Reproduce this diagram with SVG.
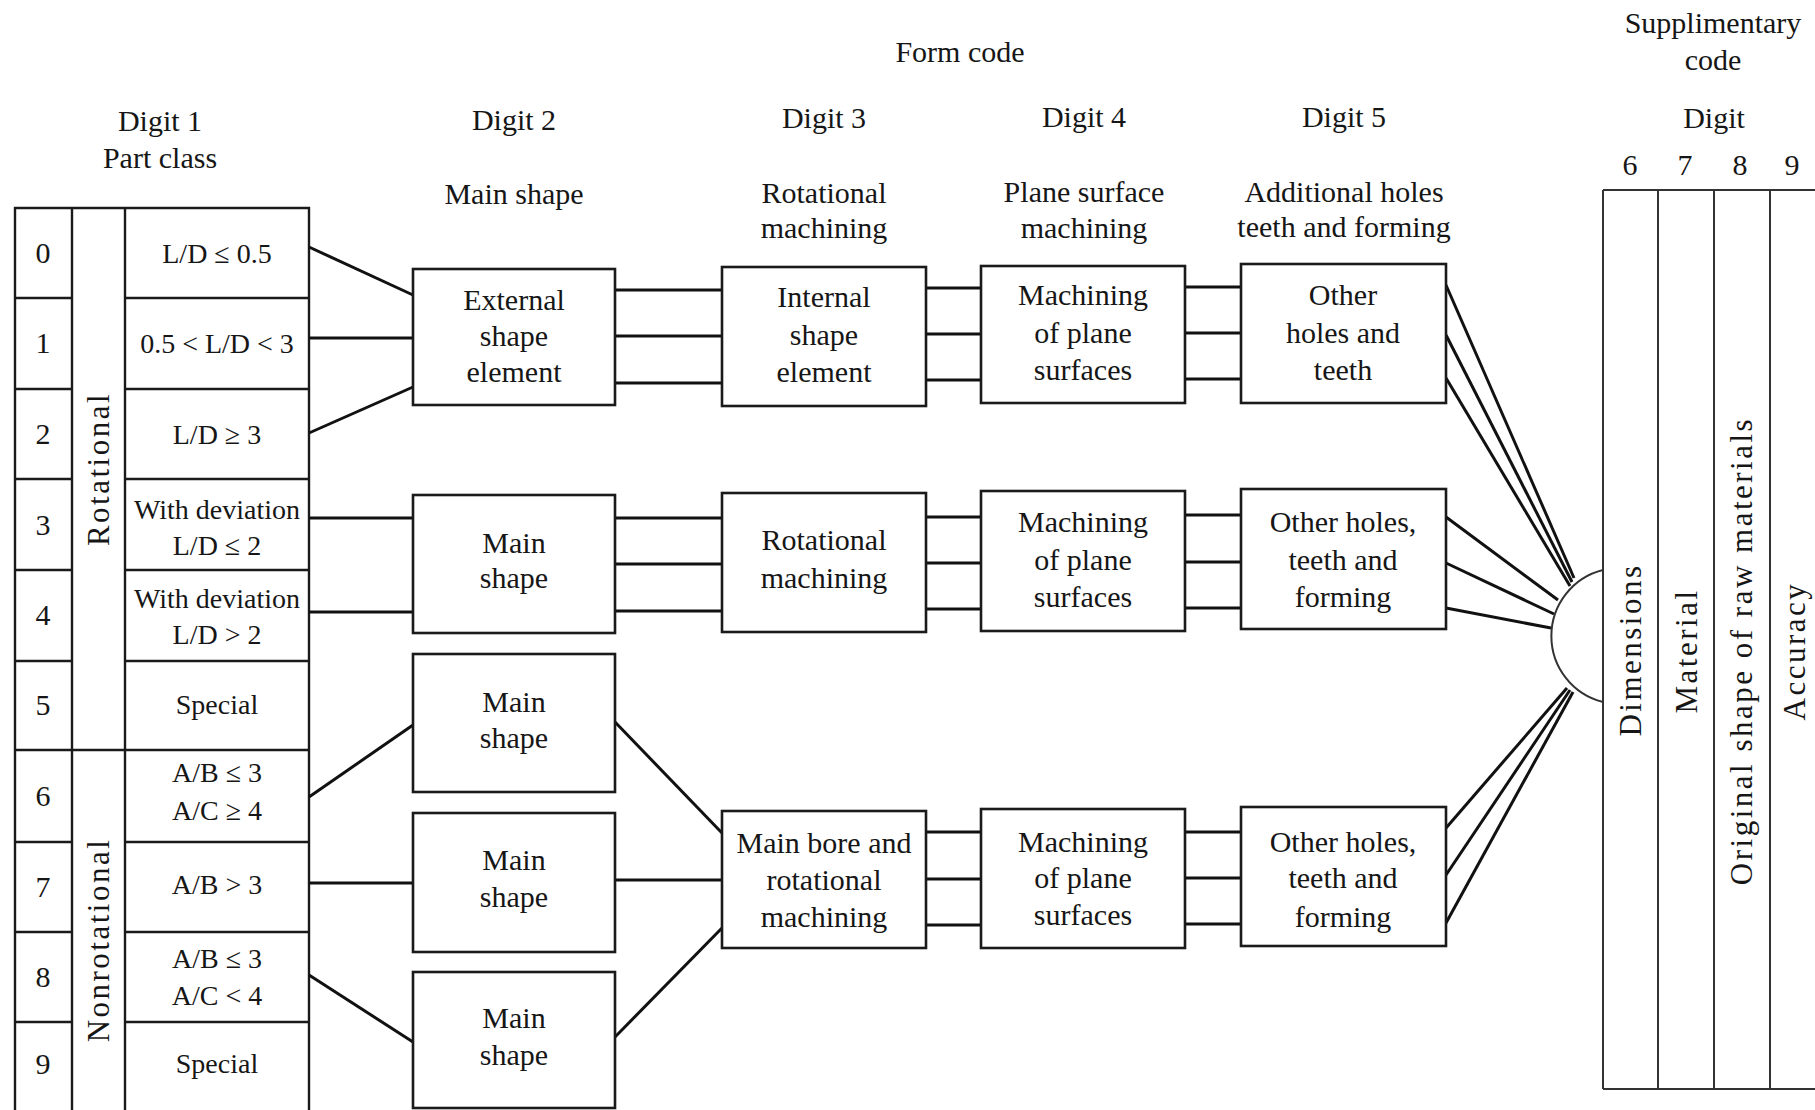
<svg xmlns="http://www.w3.org/2000/svg" width="1815" height="1110" viewBox="0 0 1815 1110">
<style>
text{font-family:"Liberation Serif","Times New Roman",serif;fill:#161616;text-anchor:middle}
.h{font-size:30px}
.t{font-size:30px}
.c{font-size:28px}
.v{font-size:31px;letter-spacing:2.5px;dominant-baseline:central}
.box{fill:#fff;stroke:#1a1a1a;stroke-width:2.6}
.tl{stroke:#1a1a1a;stroke-width:2.4;fill:none}
.sl{stroke:#333;stroke-width:2;fill:none}
.cn line{stroke:#111;stroke-width:3}
</style>
<rect width="1815" height="1110" fill="#fff"/>

<!-- headers -->
<g id="headers">
<text class="h" x="960" y="62">Form code</text>
<text class="h" x="1713" y="33">Supplimentary</text>
<text class="h" x="1713" y="70">code</text>
<text class="h" x="1714" y="128">Digit</text>
<text class="h" x="1630" y="175">6</text>
<text class="h" x="1685" y="175">7</text>
<text class="h" x="1740" y="175">8</text>
<text class="h" x="1792" y="175">9</text>
<text class="h" x="160" y="131">Digit 1</text>
<text class="h" x="160" y="168">Part class</text>
<text class="h" x="514" y="130">Digit 2</text>
<text class="h" x="514" y="204">Main shape</text>
<text class="h" x="824" y="128">Digit 3</text>
<text class="h" x="824" y="203">Rotational</text>
<text class="h" x="824" y="238">machining</text>
<text class="h" x="1084" y="127">Digit 4</text>
<text class="h" x="1084" y="202">Plane surface</text>
<text class="h" x="1084" y="238">machining</text>
<text class="h" x="1344" y="127">Digit 5</text>
<text class="h" x="1344" y="202">Additional holes</text>
<text class="h" x="1344" y="237">teeth and forming</text>
</g>

<!-- part class table -->
<g id="part-class-table">
<path class="tl" d="M15,1110 V208 H309 V1110 M72,208 V1110 M125,208 V1110 M15,750 H309"/>
<path class="tl" d="M15,298 H72 M15,389 H72 M15,479 H72 M15,570 H72 M15,661 H72 M15,842 H72 M15,932 H72 M15,1022 H72"/>
<path class="tl" d="M125,298 H309 M125,389 H309 M125,479 H309 M125,570 H309 M125,661 H309 M125,842 H309 M125,932 H309 M125,1022 H309"/>
<text class="v" transform="translate(98,469) rotate(-90)">Rotational</text>
<text class="v" transform="translate(98,940) rotate(-90)">Nonrotational</text>
</g>
<g id="row0"><text class="t" x="43" y="263">0</text><text class="c" x="217" y="263">L/D ≤ 0.5</text></g>
<g id="row1"><text class="t" x="43" y="353">1</text><text class="c" x="217" y="353">0.5 &lt; L/D &lt; 3</text></g>
<g id="row2"><text class="t" x="43" y="444">2</text><text class="c" x="217" y="444">L/D ≥ 3</text></g>
<g id="row3"><text class="t" x="43" y="535">3</text><text class="c" x="217" y="519">With deviation</text><text class="c" x="217" y="555">L/D ≤ 2</text></g>
<g id="row4"><text class="t" x="43" y="625">4</text><text class="c" x="217" y="608">With deviation</text><text class="c" x="217" y="644">L/D &gt; 2</text></g>
<g id="row5"><text class="t" x="43" y="715">5</text><text class="c" x="217" y="714">Special</text></g>
<g id="row6"><text class="t" x="43" y="806">6</text><text class="c" x="217" y="782">A/B ≤ 3</text><text class="c" x="217" y="820">A/C ≥ 4</text></g>
<g id="row7"><text class="t" x="43" y="897">7</text><text class="c" x="217" y="894">A/B &gt; 3</text></g>
<g id="row8"><text class="t" x="43" y="987">8</text><text class="c" x="217" y="968">A/B ≤ 3</text><text class="c" x="217" y="1005">A/C &lt; 4</text></g>
<g id="row9"><text class="t" x="43" y="1074">9</text><text class="c" x="217" y="1073">Special</text></g>

<!-- connectors -->
<g id="connectors" class="cn">
<line x1="309" y1="247" x2="413" y2="295"/>
<line x1="309" y1="338" x2="413" y2="338"/>
<line x1="309" y1="433" x2="413" y2="387"/>
<line x1="309" y1="518" x2="413" y2="518"/>
<line x1="309" y1="612" x2="413" y2="612"/>
<line x1="309" y1="797" x2="413" y2="725"/>
<line x1="309" y1="883" x2="413" y2="883"/>
<line x1="309" y1="975" x2="413" y2="1042"/>

<line x1="615" y1="290" x2="722" y2="290"/>
<line x1="615" y1="336" x2="722" y2="336"/>
<line x1="615" y1="383" x2="722" y2="383"/>
<line x1="615" y1="518" x2="722" y2="518"/>
<line x1="615" y1="564" x2="722" y2="564"/>
<line x1="615" y1="611" x2="722" y2="611"/>
<line x1="615" y1="722" x2="722" y2="833"/>
<line x1="615" y1="880" x2="722" y2="880"/>
<line x1="615" y1="1037" x2="722" y2="928"/>

<line x1="926" y1="288" x2="981" y2="288"/>
<line x1="926" y1="334" x2="981" y2="334"/>
<line x1="926" y1="380" x2="981" y2="380"/>
<line x1="926" y1="517" x2="981" y2="517"/>
<line x1="926" y1="563" x2="981" y2="563"/>
<line x1="926" y1="609" x2="981" y2="609"/>
<line x1="926" y1="832" x2="981" y2="832"/>
<line x1="926" y1="879" x2="981" y2="879"/>
<line x1="926" y1="925" x2="981" y2="925"/>

<line x1="1185" y1="287" x2="1241" y2="287"/>
<line x1="1185" y1="333" x2="1241" y2="333"/>
<line x1="1185" y1="379" x2="1241" y2="379"/>
<line x1="1185" y1="515" x2="1241" y2="515"/>
<line x1="1185" y1="562" x2="1241" y2="562"/>
<line x1="1185" y1="608" x2="1241" y2="608"/>
<line x1="1185" y1="832" x2="1241" y2="832"/>
<line x1="1185" y1="878" x2="1241" y2="878"/>
<line x1="1185" y1="924" x2="1241" y2="924"/>

<line x1="1446" y1="285" x2="1574" y2="578"/>
<line x1="1446" y1="335" x2="1572" y2="582"/>
<line x1="1446" y1="378" x2="1570" y2="586"/>
<line x1="1446" y1="517" x2="1558" y2="600"/>
<line x1="1446" y1="563" x2="1554" y2="614"/>
<line x1="1446" y1="608" x2="1551" y2="628"/>
<line x1="1446" y1="828" x2="1567" y2="688"/>
<line x1="1446" y1="875" x2="1570" y2="690"/>
<line x1="1446" y1="923" x2="1573" y2="692"/>
</g>

<!-- digit 2 nodes -->
<g id="d2-external"><rect class="box" x="413" y="269" width="202" height="136"/>
<text class="t" x="514" y="310">External</text><text class="t" x="514" y="346">shape</text><text class="t" x="514" y="382">element</text></g>
<g id="d2-main-1"><rect class="box" x="413" y="495" width="202" height="138"/>
<text class="t" x="514" y="553">Main</text><text class="t" x="514" y="588">shape</text></g>
<g id="d2-main-2"><rect class="box" x="413" y="654" width="202" height="138"/>
<text class="t" x="514" y="712">Main</text><text class="t" x="514" y="748">shape</text></g>
<g id="d2-main-3"><rect class="box" x="413" y="813" width="202" height="139"/>
<text class="t" x="514" y="870">Main</text><text class="t" x="514" y="907">shape</text></g>
<g id="d2-main-4"><rect class="box" x="413" y="972" width="202" height="136"/>
<text class="t" x="514" y="1028">Main</text><text class="t" x="514" y="1065">shape</text></g>

<!-- digit 3 nodes -->
<g id="d3-internal"><rect class="box" x="722" y="267" width="204" height="139"/>
<text class="t" x="824" y="307">Internal</text><text class="t" x="824" y="345">shape</text><text class="t" x="824" y="382">element</text></g>
<g id="d3-rotational"><rect class="box" x="722" y="493" width="204" height="139"/>
<text class="t" x="824" y="550">Rotational</text><text class="t" x="824" y="588">machining</text></g>
<g id="d3-mainbore"><rect class="box" x="722" y="811" width="204" height="137"/>
<text class="t" x="824" y="853">Main bore and</text><text class="t" x="824" y="890">rotational</text><text class="t" x="824" y="927">machining</text></g>

<!-- digit 4 nodes -->
<g id="d4-plane-1"><rect class="box" x="981" y="266" width="204" height="137"/>
<text class="t" x="1083" y="305">Machining</text><text class="t" x="1083" y="343">of plane</text><text class="t" x="1083" y="380">surfaces</text></g>
<g id="d4-plane-2"><rect class="box" x="981" y="491" width="204" height="140"/>
<text class="t" x="1083" y="532">Machining</text><text class="t" x="1083" y="570">of plane</text><text class="t" x="1083" y="607">surfaces</text></g>
<g id="d4-plane-3"><rect class="box" x="981" y="809" width="204" height="139"/>
<text class="t" x="1083" y="852">Machining</text><text class="t" x="1083" y="888">of plane</text><text class="t" x="1083" y="925">surfaces</text></g>

<!-- digit 5 nodes -->
<g id="d5-holes-1"><rect class="box" x="1241" y="264" width="205" height="139"/>
<text class="t" x="1343" y="305">Other</text><text class="t" x="1343" y="343">holes and</text><text class="t" x="1343" y="380">teeth</text></g>
<g id="d5-holes-2"><rect class="box" x="1241" y="489" width="205" height="140"/>
<text class="t" x="1343" y="532">Other holes,</text><text class="t" x="1343" y="570">teeth and</text><text class="t" x="1343" y="607">forming</text></g>
<g id="d5-holes-3"><rect class="box" x="1241" y="807" width="205" height="139"/>
<text class="t" x="1343" y="852">Other holes,</text><text class="t" x="1343" y="888">teeth and</text><text class="t" x="1343" y="927">forming</text></g>

<!-- supplementary code table -->
<g id="supplementary-table">
<path class="sl" d="M1603,190 H1815 M1603,1089 H1815 M1603,190 V1089 M1658,190 V1089 M1714,190 V1089 M1770,190 V1089"/>
<path class="sl" stroke-width="1.8" d="M1603,570 A68,68 0 0 0 1603,702"/>
<text class="v" transform="translate(1630,650) rotate(-90)">Dimensions</text>
<text class="v" transform="translate(1686,651) rotate(-90)">Material</text>
<text class="v" transform="translate(1741,651) rotate(-90)">Original shape of raw materials</text>
<text class="v" transform="translate(1794,651) rotate(-90)">Accuracy</text>
</g>
</svg>
